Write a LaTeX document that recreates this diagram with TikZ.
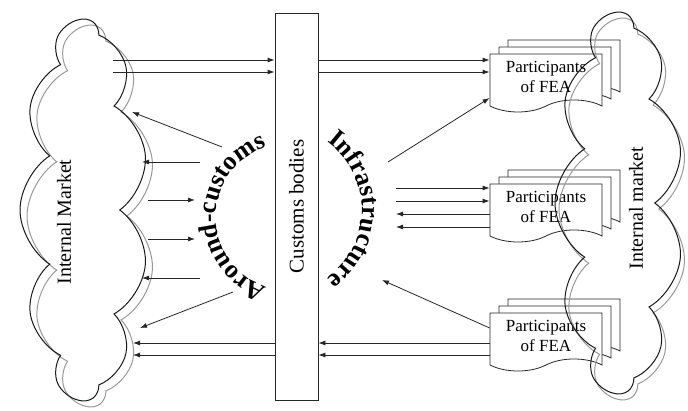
\documentclass[tikz,border=0pt]{standalone}
\usepackage{fontspec}
\setmainfont{Liberation Serif}
\usepackage{tikz}
\usetikzlibrary{positioning, arrows.meta, calc, shapes.symbols, decorations.text}

\tikzset{
	arr/.style={-{Latex[length=7pt,width=5pt]}, line width=0.8pt, draw=black!85},
	market/.style={cloud, cloud puffs=11, cloud puff arc=115, aspect=3,
		minimum width=380pt, minimum height=128pt, rotate=90, line width=1pt},
	marketlabel/.style={rotate=90, font=\fontsize{20}{20}\selectfont},
	feabox/.style={tape, tape bend top=none, tape bend bottom=in and out,
		tape bend height=12pt, draw=black!85, line width=0.8pt, fill=white,
		minimum width=112pt, minimum height=58pt, inner sep=2pt, align=center,
		font=\fontsize{17}{20}\selectfont},
	arctext/.style={decorate, decoration={text along path, text align=center,
		text={|\fontsize{26}{26}\selectfont\bfseries|#1}}},
}

\begin{document}
\begin{tikzpicture}[x=1pt, y=1pt]
	\useasboundingbox (0,0) rectangle (688,411);
	
	% Customs bodies
	\node[draw=black!85, line width=0.8pt, minimum width=43pt,
	minimum height=387pt] (cbody) at (296.5,204.5) {};
	\node[rotate=90, font=\fontsize{21}{21}\selectfont] (cbodytext) at (cbody) {Customs bodies};
	
	% Participants of FEA
	\node[feabox] (fea1c) at ($(cbody) + (267.5,143.5)$) {};
	\node[feabox] (fea1b) at ($(cbody) + (258.5,136.5)$) {};
	\node[feabox] (fea1) at ($(cbody) + (249.5,129.5)$) {Participants\\of FEA};
	
	\node[feabox] (fea2c) at ($(cbody) + (267.5,13.5)$) {};
	\node[feabox] (fea2b) at ($(cbody) + (258.5,6.5)$) {};
	\node[feabox] (fea2) at ($(cbody) + (249.5,-0.5)$) {Participants\\of FEA};
	
	\node[feabox] (fea3c) at ($(cbody) + (267.5,-115.5)$) {};
	\node[feabox] (fea3b) at ($(cbody) + (258.5,-122.5)$) {};
	\node[feabox] (fea3) at ($(cbody) + (249.5,-129.5)$) {Participants\\of FEA};
	
	% Markets
	\node[market, draw=black!40] (lmarketg) at (91,195) {};
	\node[market, draw=black!90] (lmarket) at (84,201) {};
	\node[marketlabel] (lmarkettext) at ($(lmarket) + (-20,-12)$) {Internal Market};
	\node[market, draw=black!40] (rmarketg) at (623,202) {};
	\node[market, draw=black!90] (rmarket) at (619,208) {};
	\node[marketlabel] (rmarkettext) at ($(rmarket) + (17,-5)$) {Internal market};
	
	% Around-customs and infrastructure
	\path[arctext=Around-customs]
	(290,194) ++(262:74pt) arc[start angle=262, end angle=98, radius=74pt];
	\path[arctext=Infrastructure]
	(277,201) ++(75:85pt) arc[start angle=75, end angle=-75, radius=85pt];
	
	% Connections
	\coordinate (lt1) at (113,351);
	\coordinate (lt2) at (113,339);
	\draw[arr] (lt1) -- (lt1 -| cbody.west);
	\draw[arr] (lt2) -- (lt2 -| cbody.west);
	\draw[arr] (lt1 -| cbody.east) -- (lt1 -| fea1.west);
	\draw[arr] (lt2 -| cbody.east) -- (lt2 -| fea1.west);
	
	\coordinate (ac1) at (222,264);
	\coordinate (ac2) at (200,249);
	\coordinate (ac3) at (195,211);
	\coordinate (ac4) at (195,172);
	\coordinate (ac5) at (200,133);
	\coordinate (ac6) at (233,119);
	\coordinate (lm1) at (132,299);
	\coordinate (lm2) at (142,249);
	\coordinate (lm3) at (148,211);
	\coordinate (lm4) at (148,172);
	\coordinate (lm5) at (142,133);
	\coordinate (lm6) at (140,83);
	\draw[arr] (ac1) -- (lm1);
	\draw[arr] (ac2) -- (lm2);
	\draw[arr] (lm3) -- (ac3);
	\draw[arr] (lm4) -- (ac4);
	\draw[arr] (ac5) -- (lm5);
	\draw[arr] (ac6) -- (lm6);
	
	\coordinate (in1) at (388,249);
	\coordinate (in2) at (396,223);
	\coordinate (in3) at (396,210);
	\coordinate (in4) at (396,197);
	\coordinate (in5) at (396,184);
	\coordinate (in6) at (382,131);
	\draw[arr] (in1) -- ($(fea1.west) + (0,-21)$);
	\draw[arr] (in2) -- (in2 -| fea2.west);
	\draw[arr] (in3) -- (in3 -| fea2.west);
	\draw[arr] (in4 -| fea2.west) -- (in4);
	\draw[arr] (in5 -| fea2.west) -- (in5);
	\draw[arr] ($(fea3.west) + (0,8)$) -- (in6);
	
	\coordinate (lb1) at (133,68);
	\coordinate (lb2) at (133,56);
	\draw[arr] (lb1 -| fea3.west) -- (lb1 -| cbody.east);
	\draw[arr] (lb2 -| fea3.west) -- (lb2 -| cbody.east);
	\draw[arr] (lb1 -| cbody.west) -- (lb1);
	\draw[arr] (lb2 -| cbody.west) -- (lb2);
\end{tikzpicture}
\end{document}
